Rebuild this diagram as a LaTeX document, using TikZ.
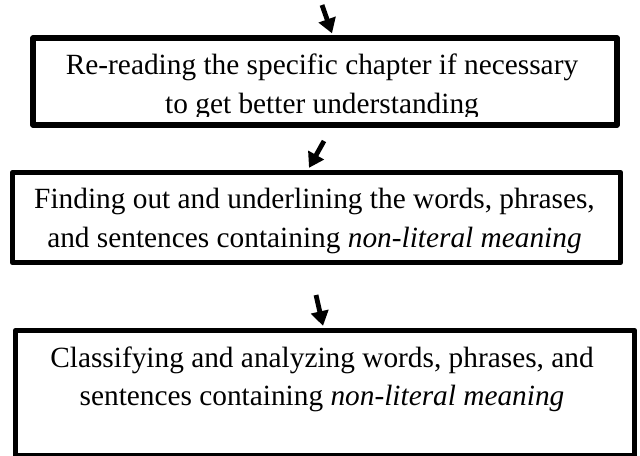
\documentclass[tikz,border=0pt]{standalone}
\usepackage{fontspec}
\setmainfont{Liberation Serif}
\usetikzlibrary{arrows.meta,calc}

\tikzset{every picture/.style={line width=0.75pt}}
\tikzset{stepbox/.style={draw, line width=4pt, line join=round, inner sep=0pt},
         steptext/.style={anchor=north, inner sep=0pt, align=center, font=\fontsize{22pt}{29pt}\selectfont},
         steparrow/.style={line width=3.6pt, -{Triangle[length=11pt,width=13pt]}}}

\begin{document}
\begin{tikzpicture}[x=0.75pt,y=0.75pt,yscale=-1,xscale=1]
\useasboundingbox (0,0) rectangle (640,455);

%Shape: Rectangle [box1]
\node [stepbox, minimum width=438pt, minimum height=65.25pt] (box1) at (325,81.5) {};
%Shape: Rectangle [box2]
\node [stepbox, minimum width=456pt, minimum height=67.5pt] (box2) at (316.5,217.5) {};
%Shape: Rectangle [box3]
\node [stepbox, minimum width=464.25pt, minimum height=94.1pt] (box3) at (325,393.25) {};

% Text Node
\begin{scope}
\clip (box1.north west) rectangle ($(box1.south east)+(0,-11)$);
\node [steptext] (read) at ($(box1.north)+(-3,18)$) {Re-reading the specific chapter if necessary\\to get better understanding};
\end{scope}
% Text Node
\begin{scope}
\clip (box2.north west) rectangle ($(box2.south east)+(0,-12)$);
\node [steptext] (find) at ($(box2.north)+(-2,18)$) {Finding out and underlining the words, phrases,\\and sentences containing \textit{non-literal meaning}};
\end{scope}
% Text Node
\node [steptext] (classify) at ($(box3.north)+(-3,18)$) {Classifying and analyzing words, phrases, and\\sentences containing \textit{non-literal meaning}};

%Straight Lines [arrows]
\coordinate (in1) at (322,5);
\coordinate (in2) at (324,141);
\coordinate (in3) at (316,295);
\draw [steparrow] (in1) -- ($(box1.north)+(7,-2)$);
\draw [steparrow] (in2) -- ($(box2.north)+(-7.5,-2)$);
\draw [steparrow] (in3) -- ($(box3.north)+(-2,-2)$);

\end{tikzpicture}
\end{document}
